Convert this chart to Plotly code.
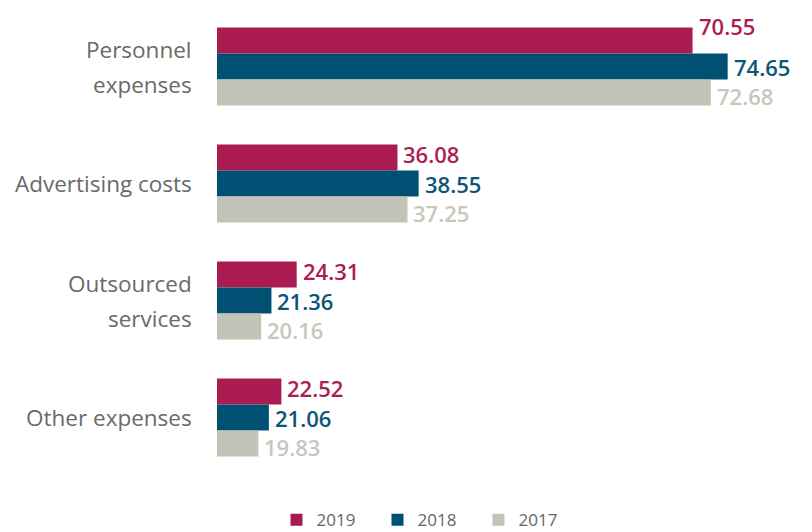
import plotly.graph_objects as go

categories = ["Personnel<br>expenses", "Advertising costs", "Outsourced<br>services", "Other expenses"]
years = ["2019", "2018", "2017"]
values_2019 = [70.55, 36.08, 24.31, 22.52]
values_2018 = [74.65, 38.55, 21.36, 21.06]
values_2017 = [72.68, 37.25, 20.16, 19.83]

bar_colors = {"2019": "#A91B51", "2018": "#005073", "2017": "#C1C4B7"}
label_colors = {"2019": "#AC1E53", "2018": "#0B5576", "2017": "#C6C8BC"}
series = {"2019": values_2019, "2018": values_2018, "2017": values_2017}

BARGAP = 1 / 3
n_series = len(years)
bar_w = (1 - BARGAP) / n_series

fig = go.Figure()
for k, yr in enumerate(years):
    fig.add_trace(go.Bar(
        name=yr,
        orientation="h",
        x=series[yr],
        y=categories,
        marker=dict(color=bar_colors[yr], line=dict(width=0)),
        hoverinfo="skip",
    ))
    # value labels just past the end of each bar
    offset = -(1 - BARGAP) / 2 + (k + 0.5) * bar_w
    for i, v in enumerate(series[yr]):
        lift = 15 if (k == 0 and i == 0) else {0: 4, 1: 0, 2: -3}[k]
        fig.add_annotation(
            x=v, xref="x", xanchor="left", xshift=4,
            y=i + offset, yref="y", yanchor="middle", yshift=lift,
            text=f"{v:.2f}", showarrow=False, height=22, valign="middle",
            font=dict(family="Open Sans", size=22, color=label_colors[yr], weight=600),
        )

# category labels, one annotation per line so the line spacing can be set
for i, cat in enumerate(categories):
    lines = cat.split("<br>")
    n = len(lines)
    for j, line in enumerate(lines):
        fig.add_annotation(
            x=0, xref="paper", xanchor="right", xshift=-23,
            y=i, yref="y", yanchor="middle",
            yshift=(n - 1) * 17.5 - j * 35,
            text=line, showarrow=False,
            font=dict(family="Open Sans", size=22.5, color="#6A6A6A"),
        )

fig.update_layout(
    width=812, height=532,
    margin=dict(l=217, r=0, t=8, b=56),
    paper_bgcolor="white", plot_bgcolor="white",
    barmode="group", bargap=BARGAP, bargroupgap=0,
    xaxis=dict(range=[15, 84.5], visible=False, fixedrange=True),
    yaxis=dict(autorange="reversed", showticklabels=False, showgrid=False,
               zeroline=False, showline=False, ticks=""),
    legend=dict(
        orientation="h", x=0.1, xanchor="left",
        yref="container", y=0.022, yanchor="middle",
        font=dict(family="Open Sans", size=17, color="#666666"),
        itemwidth=30, entrywidth=56,
    ),
    showlegend=True,
)

fig.write_html("out.html")
